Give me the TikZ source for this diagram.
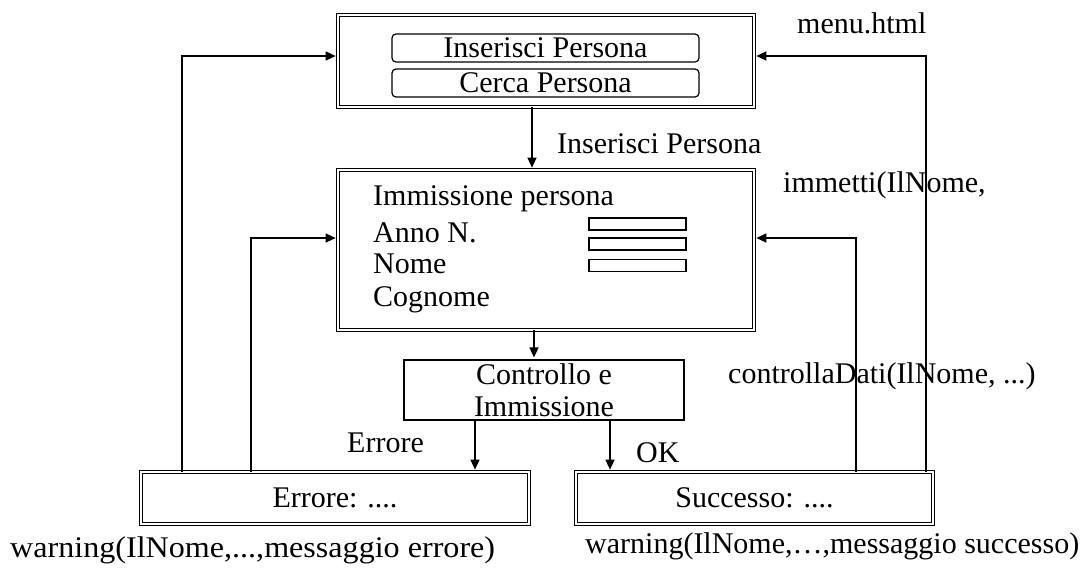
\documentclass[tikz,border=0pt]{standalone}
\usepackage{fontspec}
\usepackage{graphicx}
\setmainfont{Liberation Serif}
\usetikzlibrary{arrows.meta}
\begin{document}
\begin{tikzpicture}[x=1pt,y=-1pt,
  txt/.style={font=\fontsize{30}{32}\selectfont, inner sep=0pt},
  lbl/.style={txt, anchor=base west},
  dbl/.style={draw, line width=1.1pt, double, double distance=2.2pt, inner sep=0pt},
  btn/.style={draw, line width=1.2pt, rounded corners=4pt, inner sep=0pt, txt},
  fld/.style={draw, line width=1.2pt, inner sep=0pt, minimum width=97pt, minimum height=12pt},
  box/.style={draw, line width=1.2pt, inner sep=0pt, txt, align=center},
  conn/.style={line width=1.4pt, -{Triangle[length=10pt,width=9pt]}, shorten >=2pt}]
\useasboundingbox (0,0) rectangle (1085,571);

% boxes
\node[dbl, minimum width=415.6pt, minimum height=91.6pt] (menu) at (546,61) {};
\node[btn, minimum width=307pt, minimum height=28pt] (bins) at (545.5,48) {Inserisci Persona};
\node[btn, minimum width=307pt, minimum height=28pt] (bcer) at (545.5,83) {Cerca Persona};

\node[dbl, minimum width=415.6pt, minimum height=159.6pt] (mid) at (546,250) {};
\node[lbl] (t1) at (373,205) {Immissione persona};
\node[lbl] (t2) at (373,242) {Anno N.};
\node[lbl] (t3) at (373,273) {Nome};
\node[lbl] (t4) at (373,306) {Cognome};
\node[fld] (f1) at (637.5,224) {};
\node[fld] (f2) at (637.5,244) {};
\node[fld] (f3) at (637.5,265.5) {};

\node[box, minimum width=280pt, minimum height=60pt] (ctrl) at (544,390) {Controllo e\\Immissione};

\node[dbl, txt, minimum width=387.6pt, minimum height=51.6pt] (err) at (335,498) {Errore: ....};
\node[dbl, txt, minimum width=356.6pt, minimum height=51.6pt] (suc) at (754.5,498) {Successo: ....};

% labels
\node[lbl] (lins) at (557,153) {Inserisci Persona};
\node[lbl] (lmenu) at (797,33) {menu.html};
\node[lbl] (limm) at (783,192) {immetti(IlNome,};
\node[lbl] (lctrl) at (728,383) {controllaDati(IlNome, ...)};
\node[lbl] (lerr) at (347,452) {Errore};
\node[lbl] (lok) at (636,462) {OK};
\node[lbl] (lwe) at (10,557) {\scalebox{1.07}[1]{warning(IlNome,...,messaggio errore)}};
\node[lbl] (lws) at (585,553) {warning(IlNome,…,messaggio successo)};

% connector coordinates
\coordinate (x1) at (532,0);
\coordinate (x2) at (534,0);
\coordinate (x3) at (475,0);
\coordinate (x4) at (610,0);
\coordinate (bl1) at (182,56);
\coordinate (bl2) at (251,238);
\coordinate (br2) at (856,238);
\coordinate (br1) at (926,56);

% connectors
\draw[conn] (menu.south -| x1) -- (mid.north -| x1);
\draw[conn] (mid.south -| x2) -- (ctrl.north -| x2);
\draw[conn] (ctrl.south -| x3) -- (err.north -| x3);
\draw[conn] (ctrl.south -| x4) -- (suc.north -| x4);
\draw[conn] (err.north -| bl1) -- (bl1) -- (menu.west |- bl1);
\draw[conn] (err.north -| bl2) -- (bl2) -- (mid.west |- bl2);
\draw[conn] (suc.north -| br2) -- (br2) -- (mid.east |- br2);
\draw[conn] (suc.north -| br1) -- (br1) -- (menu.east |- br1);
\end{tikzpicture}
\end{document}
